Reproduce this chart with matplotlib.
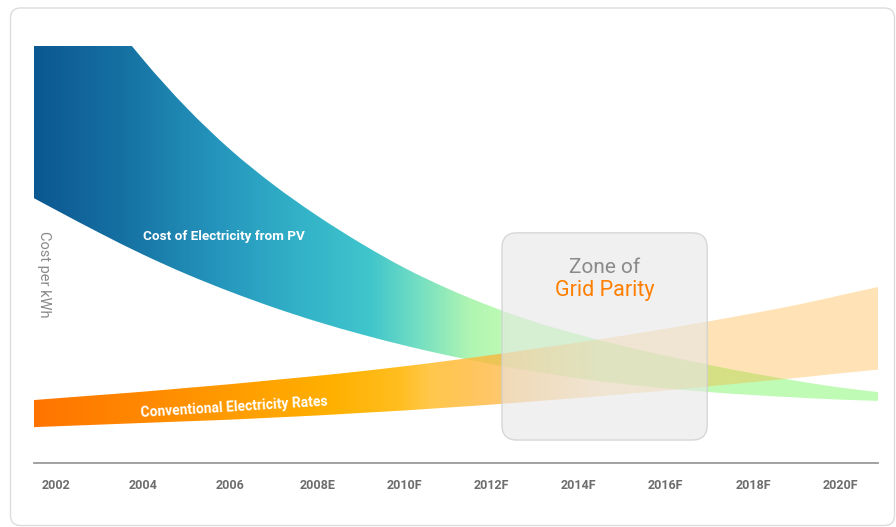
import numpy as np
import matplotlib
matplotlib.use("Agg")
import matplotlib.pyplot as plt
from matplotlib.colors import to_rgba
from matplotlib.patches import FancyBboxPatch
from matplotlib.path import Path
from matplotlib.transforms import IdentityTransform

# ---------------- data (illustrative cost per kWh, arbitrary units) ----------------
years = [2001.5, 2002, 2003, 2004, 2005, 2006, 2007, 2008, 2009, 2010, 2011,
         2012, 2013, 2014, 2015, 2016, 2017, 2018, 2019, 2020, 2020.87]

pv_high = [133, 125.3, 110.1, 96.8, 85.2, 75.2, 66.7, 59.3, 52.7, 46.8, 41.8,
           37.5, 33.8, 30.8, 28.1, 25.7, 23.5, 21.5, 19.7, 18.1, 17.0]
pv_low = [63.5, 60.7, 55.2, 50.0, 45.3, 41.1, 37.3, 33.9, 30.9, 28.2, 25.8,
          23.7, 21.9, 20.3, 19.0, 17.9, 17.0, 16.3, 15.7, 15.2, 14.9]

conv_high = [15.1, 15.5, 16.3, 17.1, 18.0, 18.9, 19.9, 20.9, 22.0, 23.2, 24.5,
             25.9, 27.4, 28.9, 30.5, 32.2, 34.0, 35.9, 37.9, 40.2, 42.2]
conv_low = [8.6, 8.8, 9.2, 9.6, 10.0, 10.4, 10.9, 11.4, 12.0, 12.6, 13.3,
            14.0, 14.8, 15.6, 16.5, 17.4, 18.4, 19.4, 20.4, 21.5, 22.4]

tick_years = [2002, 2004, 2006, 2008, 2010, 2012, 2014, 2016, 2018, 2020]
tick_labels = ["2002", "2004", "2006", "2008E", "2010F",
               "2012F", "2014F", "2016F", "2018F", "2020F"]

zone_years = (2012.24, 2016.95)
zone_values = (5.5, 55.2)

# ---------------- figure ----------------
W, H = 896, 527
fig = plt.figure(figsize=(W / 100, H / 100), dpi=100)
fig.patch.set_facecolor("white")

card = FancyBboxPatch((10.5, 1.5), 884, 517.5,
                      boxstyle="round,pad=0,rounding_size=10",
                      transform=IdentityTransform(), facecolor="white",
                      edgecolor="#dcdcdc", linewidth=1.0, zorder=0)
fig.add_artist(card)

ax = fig.add_axes([34 / W, 64 / H, 844 / W, 417 / H])
ax.set_facecolor("none")
XL = (years[0], years[-1])
YL = (0, 100)


def gradient(stops, n=600):
    xs = np.linspace(0, 1, n)
    pos = [s[0] for s in stops]
    cols = np.array([to_rgba(c, a) for _, c, a in stops])
    img = np.empty((1, n, 4))
    for k in range(4):
        img[0, :, k] = np.interp(xs, pos, cols[:, k])
    return img


def tangents(x, y):
    x = np.asarray(x, float)
    y = np.asarray(y, float)
    h = np.diff(x)
    d = np.diff(y) / h
    m = np.empty_like(y)
    m[0], m[-1] = d[0], d[-1]
    for i in range(1, len(y) - 1):
        m[i] = (d[i - 1] * h[i] + d[i] * h[i - 1]) / (h[i - 1] + h[i])
    return x, y, h, m


def smooth_segments(x, y, reverse=False):
    """Cubic Bezier control points following the series (drawing style only)."""
    x, y, h, m = tangents(x, y)
    verts = []
    idx = range(len(x) - 1)
    if not reverse:
        for i in idx:
            verts += [(x[i] + h[i] / 3, y[i] + m[i] * h[i] / 3),
                      (x[i + 1] - h[i] / 3, y[i + 1] - m[i + 1] * h[i] / 3),
                      (x[i + 1], y[i + 1])]
    else:
        for i in reversed(idx):
            verts += [(x[i + 1] - h[i] / 3, y[i + 1] - m[i + 1] * h[i] / 3),
                      (x[i] + h[i] / 3, y[i] + m[i] * h[i] / 3),
                      (x[i], y[i])]
    return verts


def band_path(x, lo, hi):
    verts = [(x[0], hi[0])]
    codes = [Path.MOVETO]
    seg = smooth_segments(x, hi)
    verts += seg
    codes += [Path.CURVE4] * len(seg)
    verts.append((x[-1], lo[-1]))
    codes.append(Path.LINETO)
    seg = smooth_segments(x, lo, reverse=True)
    verts += seg
    codes += [Path.CURVE4] * len(seg)
    verts.append((x[0], hi[0]))
    codes.append(Path.CLOSEPOLY)
    return Path(verts, codes)


pv_stops = [
    (0.0, "#0c5891", 1), (0.102, "#1570a2", 1), (0.22, "#2596bd", 1),
    (0.315, "#33b2c8", 1), (0.398, "#40c5cc", 1), (0.457, "#75dfc2", 1),
    (0.517, "#b0f5b2", 1), (0.564, "#bffbb5", 1), (1.0, "#c0fcb6", 1),
]
conv_stops = [
    (0.0, "#ff7400", 1), (0.137, "#ff8a00", 1), (0.256, "#ffa000", 1),
    (0.351, "#ffb000", 1), (0.434, "#ffbe20", 1), (0.469, "#ffc84c", 1),
    (0.555, "#ffb030", 0.7), (0.67, "#ffb030", 0.36), (1.0, "#ffb030", 0.355),
]


def band(lo, hi, stops, z):
    im = ax.imshow(gradient(stops), extent=[XL[0], XL[1], YL[0], YL[1]],
                   aspect="auto", origin="lower", interpolation="bilinear",
                   zorder=z)
    im.set_clip_path(band_path(years, lo, hi), transform=ax.transData)


band(pv_low, pv_high, pv_stops, 1)
band(conv_low, conv_high, conv_stops, 2)

ax.set_xlim(*XL)
ax.set_ylim(*YL)

# zone of grid parity box
px_per_x = 844 / (XL[1] - XL[0])
px_per_y = 417 / (YL[1] - YL[0])
r = 15 / px_per_x
zone = FancyBboxPatch((zone_years[0], zone_values[0]),
                      zone_years[1] - zone_years[0],
                      zone_values[1] - zone_values[0],
                      boxstyle=f"round,pad=0,rounding_size={r}",
                      mutation_aspect=px_per_x / px_per_y,
                      facecolor=to_rgba("#e6e6e6", 0.6),
                      edgecolor=to_rgba("#cfcfcf", 0.8), linewidth=1.0,
                      zorder=3)
ax.add_patch(zone)

zx = (zone_years[0] + zone_years[1]) / 2
ax.text(zx, 47.0, "Zone of", ha="center", va="center", fontsize=15,
        color="#8a8a8a", family="Roboto", zorder=5)
ax.text(zx, 41.3, "Grid Parity", ha="center", va="center", fontsize=15.5,
        color="#ff7f00", family="Roboto", fontweight="normal", zorder=5)

# band labels
ax.text(2005.85, 54.2, "Cost of Electricity from PV", ha="center",
        va="center", fontsize=9.7, color="white", family="Roboto",
        fontweight="bold", zorder=5)
ax.text(2006.1, 13.3, "Conventional Electricity Rates", ha="center",
        va="center", fontsize=10, color="white", family="Roboto",
        fontweight="bold", rotation=3.5, rotation_mode="anchor", zorder=5)

# y label inside the plot
ax.text(2001.73, 45.3, "Cost per kWh", ha="center", va="center",
        rotation=-90, fontsize=10.5, color="#8a8a8a", family="Roboto",
        zorder=5)

for s in ("top", "right", "left"):
    ax.spines[s].set_visible(False)
ax.spines["bottom"].set_color("#9a9a9a")
ax.spines["bottom"].set_linewidth(1.3)
ax.set_yticks([])
ax.set_xticks(tick_years)
ax.set_xticklabels(tick_labels, fontsize=9, color="#6d6d6d",
                   family="Roboto", fontweight="bold")
ax.tick_params(axis="x", length=0, pad=11.5)

fig.savefig("out.png", dpi=100, facecolor="white")
